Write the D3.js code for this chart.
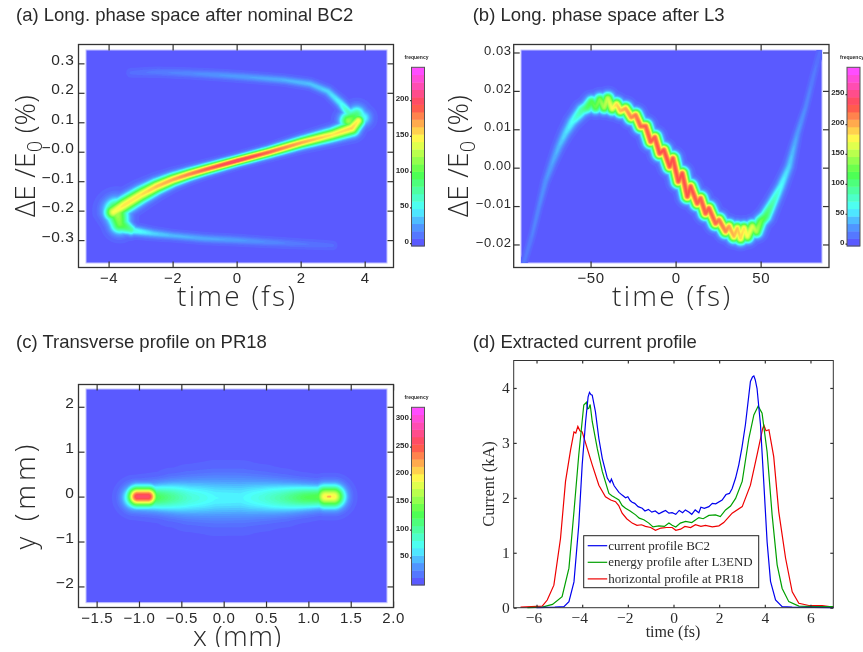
<!DOCTYPE html>
<html>
<head>
<meta charset="utf-8">
<script src="https://cdn.jsdelivr.net/npm/d3@7"></script>
<style>
  html, body { margin: 0; background: #fff; }
  svg { display: block; filter: blur(0.35px); }
  text { fill: #2a2a2a; }
</style>
</head>
<body>
<svg id="chart" width="863" height="652"></svg>
<script>
"use strict";

/********/
/* data */
/********/

// ridges: [x, y, peak frequency, spread in y units]
const aMain = [[-3.85, -0.205, 145, 0.02], [-3.5, -0.18, 155, 0.019], [-3, -0.147, 155, 0.018], [-2.5, -0.118, 165, 0.016],
  [-2, -0.095, 172, 0.014], [-1.5, -0.077, 182, 0.0125], [-1, -0.061, 192, 0.0115], [0, -0.031, 206, 0.0105], [1, -0.002, 192, 0.011],
  [2, 0.03, 172, 0.0125], [3, 0.058, 155, 0.0145], [3.6, 0.08, 160, 0.017], [3.8, 0.105, 150, 0.015]];
const aLeftBlob = [[-3.75, -0.2, 125, 0.027], [-3.65, -0.245, 110, 0.022], [-3.3, -0.265, 75, 0.013]];
const aRightBlob = [[3.5, 0.105, 120, 0.02], [3.75, 0.125, 85, 0.02], [3.95, 0.115, 55, 0.018]];
const aTop = [[3.55, 0.125, 75, 0.012], [3.25, 0.165, 48, 0.011], [2.85, 0.205, 38, 0.01], [2.3, 0.23, 33, 0.0095],
  [1.5, 0.243, 29, 0.009], [0.5, 0.252, 25, 0.009], [-0.5, 0.26, 21, 0.009], [-1.5, 0.266, 16, 0.009],
  [-2.5, 0.27, 11, 0.009], [-3.3, 0.268, 6, 0.009]];
const aBottom = [[-3.55, -0.25, 85, 0.014], [-3.2, -0.268, 55, 0.011], [-2.6, -0.278, 38, 0.01], [-2, -0.285, 31, 0.009],
  [-1, -0.295, 27, 0.009], [0, -0.3, 23, 0.009], [1, -0.307, 16, 0.009], [2, -0.313, 10, 0.009], [3, -0.318, 6, 0.009]];

const bRidge = [[-89.2, -0.0248, 12, 0.0005], [-84.3, -0.0175, 16, 0.0005], [-80.5, -0.0105, 20, 0.0005], [-76.5, -0.0036, 24, 0.0006],
  [-72.5, 0.0012, 30, 0.0007], [-68.6, 0.0055, 38, 0.0008], [-64.7, 0.009, 48, 0.0009],
  [-60.8, 0.0119, 60, 0.001], [-54.9, 0.015, 90, 0.0011], [-52, 0.0157, 110, 0.0011], [-49.4, 0.0171, 120, 0.0011],
  [-47, 0.0157, 125, 0.0011], [-44.5, 0.0177, 135, 0.0011], [-42, 0.0157, 150, 0.0011], [-39.8, 0.018, 160, 0.0011],
  [-37.3, 0.0154, 175, 0.0011], [-34.7, 0.0165, 190, 0.0011], [-32.4, 0.0148, 200, 0.0011], [-29.4, 0.0154, 208, 0.0011],
  [-26.1, 0.0131, 216, 0.0011], [-23.5, 0.0137, 222, 0.0011], [-20.6, 0.0108, 228, 0.0011], [-17.6, 0.0108, 230, 0.0011],
  [-14.7, 0.0068, 232, 0.0011], [-12.2, 0.0079, 232, 0.0011], [-9.4, 0.0037, 235, 0.0011], [-6.9, 0.0046, 235, 0.0011],
  [-3.5, 0.0003, 235, 0.0011], [-1.6, 0.0024, 235, 0.0011], [1.6, -0.0036, 235, 0.0011], [3.9, -0.0015, 235, 0.0011],
  [6.9, -0.0075, 235, 0.0011], [8.8, -0.0049, 235, 0.0011], [12.7, -0.0093, 232, 0.0011], [14.7, -0.008, 232, 0.0011],
  [17.6, -0.0119, 232, 0.0011], [19.6, -0.0106, 232, 0.0011], [23.5, -0.0145, 228, 0.0011], [25.5, -0.0136, 222, 0.0011],
  [29.4, -0.0166, 218, 0.0011], [31.4, -0.0153, 208, 0.0011], [34.3, -0.0179, 200, 0.0011], [36.3, -0.0158, 196, 0.0011],
  [38.2, -0.0184, 190, 0.0011], [40.2, -0.0158, 185, 0.0011], [42.2, -0.0179, 175, 0.0011], [45.1, -0.0153, 165, 0.0011],
  [47.5, -0.0166, 150, 0.0011], [50, -0.014, 130, 0.0011], [52.9, -0.0127, 112, 0.0011], [56.9, -0.0093, 85, 0.001],
  [61.8, -0.0049, 60, 0.0009], [66.7, 0.0003, 45, 0.0008], [71.6, 0.0089, 28, 0.0006], [76.5, 0.0158, 20, 0.0005],
  [81.4, 0.0245, 13, 0.0005], [84.7, 0.0301, 8, 0.0005]];

const cBar = [[-1.05, -0.02, 130, 0.17], [-0.8, -0.02, 125, 0.19], [-0.6, -0.02, 100, 0.23], [-0.4, -0.03, 78, 0.27], [-0.1, -0.03, 62, 0.31],
  [0.2, -0.03, 60, 0.31], [0.45, -0.03, 74, 0.27], [0.7, -0.03, 95, 0.23], [0.95, -0.02, 122, 0.19], [1.15, -0.01, 130, 0.17], [1.32, -0.01, 125, 0.16]];
const cLeftCore = [[-1.02, 0, 268, 0.15], [-0.89, 0, 268, 0.15]];
const cRightCore = [[1.2, 0, 195, 0.17], [1.3, 0, 195, 0.17]];
const cRightSpot = [[1.23, 0, 225, 0.05], [1.26, 0, 225, 0.05]];

const frequencyStops = [0, 0.1, 0.2, 0.4, 0.6, 0.8, 0.9, 1];
const frequencyColours = ["#5a5aff", "#4f9eff", "#4dffff", "#4dff4d", "#ffff4d", "#ff4d4d", "#ff4da6", "#ff4dff"];

const blueTime = [-6, -5.2, -4.8, -4.58, -4.36, -4.15, -4, -3.85, -3.74, -3.68, -3.62, -3.56, -3.42, -3.27, -3.12, -2.9, -2.78, -2.72, -2.6,
  -2.39, -2.25, -2.1, -2, -1.9, -1.81, -1.7, -1.55, -1.37, -1.25, -1.1, -0.95, -0.8, -0.64, -0.5, -0.35, -0.2, -0.06, 0.1, 0.25, 0.4, 0.52, 0.67,
  0.8, 0.95, 1.11, 1.2, 1.35, 1.55, 1.7, 1.85, 2.13, 2.3, 2.45, 2.57, 2.72, 2.86, 3, 3.15, 3.37, 3.46, 3.52, 3.58, 3.66, 3.81, 3.96, 4.1, 4.25,
  4.47, 4.76, 5.2, 7];
const blueCurrent = [0, 0.01, 0.02, 0.11, 0.47, 1.5, 2.6, 3.39, 3.84, 3.92, 3.88, 3.87, 3.57, 3.08, 2.72, 2.36, 2.28, 2.34, 2.22,
  2.1, 2.05, 2, 2.02, 1.95, 1.92, 1.9, 1.84, 1.81, 1.76, 1.79, 1.74, 1.76, 1.71, 1.74, 1.77, 1.72, 1.73, 1.7, 1.77, 1.73, 1.78, 1.74,
  1.7, 1.78, 1.73, 1.83, 1.81, 1.84, 1.9, 1.89, 1.96, 2.06, 2.08, 2.17, 2.36, 2.6, 2.92, 3.33, 4.12, 4.2, 4.22, 4.15, 3.99, 3.33, 2.24, 1.2, 0.48,
  0.14, 0.02, 0.01, 0];

const greenTime = [-6.4, -5.75, -5.3, -4.88, -4.58, -4.36, -4.15, -3.93, -3.81, -3.76, -3.71, -3.65, -3.56, -3.34, -3.12, -2.83, -2.7, -2.55, -2.39, -2.25, -2.1,
  -1.9, -1.66, -1.5, -1.3, -1.08, -0.9, -0.64, -0.4, -0.2, -0.06, 0.1, 0.3, 0.53, 0.8, 1.11, 1.3, 1.55, 1.84, 2.05, 2.28, 2.5, 2.72, 3.01, 3.3, 3.52, 3.71, 3.88,
  4.1, 4.32, 4.54, 4.76, 5.05, 5.49, 6.2, 7];
const greenCurrent = [0, 0.01, 0.06, 0.2, 0.72, 1.75, 2.78, 3.69, 3.74, 3.62, 3.63, 3.7, 3.39, 2.9, 2.48, 2.08, 2.04, 2, 1.96, 1.86, 1.81,
  1.76, 1.69, 1.63, 1.6, 1.54, 1.47, 1.49, 1.48, 1.54, 1.5, 1.47, 1.54, 1.57, 1.55, 1.64, 1.62, 1.68, 1.69, 1.66, 1.78, 1.85, 1.99, 2.3, 3.08, 3.51, 3.67, 3.54,
  2.84, 1.69, 0.78, 0.35, 0.11, 0.03, 0.02, 0.02];

const redTime = [-6.7, -5.75, -5.53, -5.24, -4.95, -4.73, -4.51, -4.36, -4.28, -4.19, -4.1, -4, -3.78, -3.56, -3.27, -2.98, -2.75, -2.54, -2.4, -2.25, -2.05,
  -1.81, -1.6, -1.4, -1.23, -1, -0.79, -0.55, -0.3, -0.06, 0.1, 0.31, 0.5, 0.75, 0.96, 1.2, 1.4, 1.7, 1.99, 2.2, 2.57, 3.01, 3.37, 3.66, 3.9, 3.96, 4.05, 4.18,
  4.39, 4.61, 4.91, 5.2, 5.49, 5.93, 6.51, 7];
const redCurrent = [0.01, 0.03, 0.14, 0.41, 1.26, 2.3, 2.87, 3.2, 3.18, 3.3, 3.22, 3.2, 2.9, 2.6, 2.23, 2.02, 1.96, 1.93, 1.86, 1.72, 1.62,
  1.54, 1.5, 1.51, 1.48, 1.46, 1.41, 1.45, 1.46, 1.46, 1.41, 1.43, 1.48, 1.46, 1.51, 1.48, 1.5, 1.47, 1.49, 1.55, 1.72, 1.84, 2.23, 2.78, 3.25, 3.32, 3.22, 3.24,
  2.75, 1.75, 0.9, 0.29, 0.08, 0.04, 0.04, 0.01];

const curveColours = ["#0000ee", "#00a000", "#ee0000"];
const curveNames = ["current profile BC2", "energy profile after L3END", "horizontal profile at PR18"];

const titles = ["(a) Long. phase space after nominal BC2", "(b) Long. phase space after L3",
  "(c) Transverse profile on PR18", "(d) Extracted current profile"];

/**********/
/* layout */
/**********/

const svg = d3.select("#chart");

svg.append("defs")
  .append("filter")
  .attr("id", "soften")
  .attr("x", "0").attr("y", "0").attr("width", "1").attr("height", "1")
  .append("feGaussianBlur")
  .attr("stdDeviation", 0.6);

const panelA = {
  frame: [78.5, 393.5, 44.5, 267.5], image: [86, 387, 50, 263],
  xDomain: [-4.94, 4.9], yDomain: [0.364, -0.393],
  xTicks: [-4, -2, 0, 2, 4], xLabels: ["−4", "−2", "0", "2", "4"],
  yTicks: [0.3, 0.2, 0.1, 0, -0.1, -0.2, -0.3], yLabels: ["0.3", "0.2", "0.1", "−0.0", "−0.1", "−0.2", "−0.3"],
  yFont: 15.5, ridges: [aBottom, aTop, aLeftBlob, aRightBlob, aMain],
  bar: { x: 411.5, width: 13, top: 67.3, bottom: 246, domain: [-4, 246], ticks: [0, 50, 100, 150, 200] },
};

const panelB = {
  frame: [513.7, 829, 44.5, 267.5], image: [521, 822, 50, 263],
  xDomain: [-95.2, 90.2], yDomain: [0.03208, -0.026],
  xTicks: [-50, 0, 50], xLabels: ["−50", "0", "50"],
  yTicks: [0.03, 0.02, 0.01, 0, -0.01, -0.02], yLabels: ["0.03", "0.02", "0.01", "0.00", "−0.01", "−0.02"],
  yFont: 13, ridges: [bRidge],
  bar: { x: 847, width: 13, top: 67.3, bottom: 246, domain: [-4, 295], ticks: [0, 50, 100, 150, 200, 250] },
};

const panelC = {
  frame: [78.5, 393.5, 384.5, 607.5], image: [86, 387, 389, 602.7],
  xDomain: [-1.714, 2.005], yDomain: [2.496, -2.469],
  xTicks: [-1.5, -1, -0.5, 0, 0.5, 1, 1.5, 2], xLabels: ["−1.5", "−1.0", "−0.5", "0.0", "0.5", "1.0", "1.5", "2.0"],
  yTicks: [2, 1, 0, -1, -2], yLabels: ["2", "1", "0", "−1", "−2"],
  yFont: 15.5, ridges: [cBar, cLeftCore, cRightCore, cRightSpot],
  bar: { x: 411.5, width: 13, top: 407.3, bottom: 585, domain: [0, 321], ticks: [50, 100, 150, 200, 250, 300] },
};

const panelD = { frame: [513.7, 833.3, 360.5, 607.7] };

/********/
/* view */
/********/

function frequencyColour(share) {
  return d3.scaleLinear().domain(frequencyStops).range(frequencyColours)(share);
}

// value of the ridges at one pixel, each ridge vertex spreading as a gaussian
function ridgeField(panel, x, y) {
  const [left, right, top, bottom] = panel.image;
  const width = Math.round(right - left);
  const height = Math.round(bottom - top);
  const values = new Float64Array(width * height);
  const yPerUnit = Math.abs(y(0) - y(1));
  const segments = [];
  panel.ridges.forEach(ridge => {
    d3.pairs(ridge).forEach(([a, b]) => segments.push({
      x0: x(a[0]), y0: y(a[1]), x1: x(b[0]), y1: y(b[1]),
      p0: a[2], p1: b[2], w0: a[3] * yPerUnit, w1: b[3] * yPerUnit,
    }));
  });
  for (let j = 0; j < height; j++) {
    for (let i = 0; i < width; i++) {
      const px = left + i + 0.5;
      const py = top + j + 0.5;
      let best = 0;
      segments.forEach(s => {
        const dx = s.x1 - s.x0;
        const dy = s.y1 - s.y0;
        const u = Math.max(0, Math.min(1, ((px - s.x0) * dx + (py - s.y0) * dy) / (dx * dx + dy * dy)));
        const ex = px - s.x0 - u * dx;
        const ey = py - s.y0 - u * dy;
        const w = s.w0 + u * (s.w1 - s.w0);
        const v = (s.p0 + u * (s.p1 - s.p0)) * Math.exp(-(ex * ex + ey * ey) / (2 * w * w));
        if (v > best) best = v;
      });
      values[i + j * width] = best;
    }
  }
  return { values, width, height };
}

function heatView(panel, x, y) {
  const [left, right, top, bottom] = panel.image;
  const max = panel.bar.domain[1];
  const bands = 64;
  const step = max / bands;
  const field = ridgeField(panel, x, y);
  const thresholds = d3.range(1, bands).map(k => k * step - step * 0.7);

  svg.append("rect")
    .attr("x", left).attr("y", top)
    .attr("width", right - left).attr("height", bottom - top)
    .attr("fill", frequencyColour(0))
    .attr("stroke", "#c4c4ff").attr("stroke-width", 1);

  const contours = d3.contours()
    .size([field.width, field.height])
    .thresholds(thresholds)(field.values);

  svg.append("g")
    .attr("transform", "translate(" + left + "," + top + ")")
    .attr("filter", "url(#soften)")
    .selectAll("path")
    .data(contours)
    .join("path")
    .attr("d", d3.geoPath())
    .attr("fill", d => frequencyColour((d.value + step * 0.7) / max));
}

function axisStyle(g, colour) {
  g.select(".domain").remove();
  g.selectAll("line").attr("stroke", colour).attr("stroke-width", 1.2);
  return g;
}

function frameView(panel, x, y) {
  const [left, right, top, bottom] = panel.frame;
  const colour = "#333";

  svg.append("rect")
    .attr("x", left).attr("y", top)
    .attr("width", right - left).attr("height", bottom - top)
    .attr("fill", "none").attr("stroke", colour).attr("stroke-width", 1.3);

  const bottomAxis = svg.append("g")
    .attr("transform", "translate(0," + bottom + ")")
    .call(d3.axisBottom(x).tickValues(panel.xTicks).tickSizeInner(-6).tickSizeOuter(0).tickPadding(5)
      .tickFormat((d, i) => panel.xLabels[i]))
    .call(axisStyle, colour);
  bottomAxis.selectAll("text")
    .attr("font-family", "Liberation Sans").attr("font-size", 15).attr("letter-spacing", 0.6);

  svg.append("g")
    .attr("transform", "translate(0," + top + ")")
    .call(d3.axisTop(x).tickValues(panel.xTicks).tickSizeInner(-6).tickSizeOuter(0).tickFormat(""))
    .call(axisStyle, colour);

  const leftAxis = svg.append("g")
    .attr("transform", "translate(" + left + ",0)")
    .call(d3.axisLeft(y).tickValues(panel.yTicks).tickSizeInner(-6).tickSizeOuter(0).tickPadding(panel.yFont > 14 ? 4 : 2)
      .tickFormat((d, i) => panel.yLabels[i]))
    .call(axisStyle, colour);
  leftAxis.selectAll("text")
    .attr("font-family", "Liberation Sans").attr("font-size", panel.yFont).attr("letter-spacing", 0.6)
    .attr("dy", panel.yFont > 14 ? "0.07em" : "0.12em");

  svg.append("g")
    .attr("transform", "translate(" + right + ",0)")
    .call(d3.axisRight(y).tickValues(panel.yTicks).tickSizeInner(-6).tickSizeOuter(0).tickFormat(""))
    .call(axisStyle, colour);
}

function colourBarView(bar) {
  const scale = d3.scaleLinear().domain(bar.domain).range([bar.bottom, bar.top]);
  const steps = 24;
  const bandHeight = (bar.bottom - bar.top) / steps;

  svg.append("g")
    .selectAll("rect")
    .data(d3.range(steps))
    .join("rect")
    .attr("x", bar.x)
    .attr("y", d => bar.bottom - (d + 1) * bandHeight)
    .attr("width", bar.width)
    .attr("height", bandHeight + 0.4)
    .attr("fill", d => frequencyColour(d / (steps - 1)));

  svg.append("rect")
    .attr("x", bar.x).attr("y", bar.top)
    .attr("width", bar.width).attr("height", bar.bottom - bar.top)
    .attr("fill", "none").attr("stroke", "#555").attr("stroke-width", 1);

  const axis = svg.append("g")
    .attr("transform", "translate(" + bar.x + ",0)")
    .call(d3.axisLeft(scale).tickValues(bar.ticks).tickSizeInner(1.5).tickSizeOuter(0).tickPadding(1))
    .call(axisStyle, "#333");
  axis.selectAll("text")
    .attr("font-family", "Liberation Sans").attr("font-size", 8).attr("font-weight", "bold")
    .attr("dy", "0.05em");

  svg.append("text")
    .attr("x", bar.x + bar.width / 2 - 1.5).attr("y", bar.top - 8)
    .attr("text-anchor", "middle")
    .attr("font-family", "Liberation Sans").attr("font-size", 5).attr("font-weight", "bold")
    .text("frequency");
}

function bigLabel(x, y, parts, width, rotate) {
  const label = svg.append("text")
    .attr("transform", "translate(" + x + "," + y + ")" + (rotate ? " rotate(-90)" : ""))
    .attr("text-anchor", "middle")
    .attr("font-family", "Open Sans")
    .attr("font-weight", 300)
    .attr("font-size", 28)
    .attr("textLength", width)
    .attr("lengthAdjust", "spacing");
  parts.forEach(part => {
    label.append("tspan")
      .attr("dy", part.sub ? 7 : (part.after ? -7 : 0))
      .attr("font-size", part.sub ? 20 : 28)
      .text(part.text);
  });
}

function scatterPanel(panel) {
  const x = d3.scaleLinear().domain(panel.xDomain).range(panel.frame.slice(0, 2));
  const y = d3.scaleLinear().domain(panel.yDomain).range(panel.frame.slice(2, 4));
  heatView(panel, x, y);
  frameView(panel, x, y);
  colourBarView(panel.bar);
}

function currentPanel() {
  const [left, right, top, bottom] = panelD.frame;
  const x = d3.scaleLinear().domain([-7, 7]).range([left, right]);
  const y = d3.scaleLinear().domain([0, 4.5]).range([bottom, top]);
  const colour = "#333";
  const font = "Liberation Serif";

  const series = [[blueTime, blueCurrent], [greenTime, greenCurrent], [redTime, redCurrent]];
  const line = d3.line().x(d => x(d[0])).y(d => y(d[1]));

  svg.append("g")
    .selectAll("path")
    .data(series.slice().reverse())
    .join("path")
    .attr("d", d => line(d3.zip(d[0], d[1])))
    .attr("fill", "none")
    .attr("stroke", (d, i) => curveColours[2 - i])
    .attr("stroke-width", 1.2);

  const xTicks = [-6, -4, -2, 0, 2, 4, 6];
  const yTicks = [0, 1, 2, 3, 4];

  svg.append("rect")
    .attr("x", left).attr("y", top)
    .attr("width", right - left).attr("height", bottom - top)
    .attr("fill", "none").attr("stroke", colour).attr("stroke-width", 1);

  const bottomAxis = svg.append("g")
    .attr("transform", "translate(0," + bottom + ")")
    .call(d3.axisBottom(x).tickValues(xTicks).tickSizeInner(-3).tickSizeOuter(0).tickPadding(4)
      .tickFormat(d => (d < 0 ? "−" : "") + Math.abs(d)))
    .call(axisStyle, colour);
  svg.append("g")
    .attr("transform", "translate(0," + top + ")")
    .call(d3.axisTop(x).tickValues(xTicks).tickSizeInner(-3).tickSizeOuter(0).tickFormat(""))
    .call(axisStyle, colour);
  const leftAxis = svg.append("g")
    .attr("transform", "translate(" + left + ",0)")
    .call(d3.axisLeft(y).tickValues(yTicks).tickSizeInner(-3).tickSizeOuter(0).tickPadding(4)
      .tickFormat(d3.format("d")))
    .call(axisStyle, colour);
  svg.append("g")
    .attr("transform", "translate(" + right + ",0)")
    .call(d3.axisRight(y).tickValues(yTicks).tickSizeInner(-3).tickSizeOuter(0).tickFormat(""))
    .call(axisStyle, colour);
  bottomAxis.selectAll("text")
    .attr("font-family", font).attr("font-size", 15.5)
    .attr("dx", d => (d < 0 ? -3 : 0));
  leftAxis.selectAll("text").attr("font-family", font).attr("font-size", 15.5);

  svg.append("text")
    .attr("x", 673).attr("y", 637)
    .attr("text-anchor", "middle")
    .attr("font-family", font).attr("font-size", 16)
    .text("time (fs)");

  svg.append("text")
    .attr("transform", "translate(494,484) rotate(-90)")
    .attr("text-anchor", "middle")
    .attr("font-family", font).attr("font-size", 16.5)
    .text("Current (kA)");

  // legend
  const legend = svg.append("g").attr("transform", "translate(583.7,535.7)");
  legend.append("rect")
    .attr("width", 175).attr("height", 52)
    .attr("fill", "#fff").attr("stroke", "#222").attr("stroke-width", 1);
  const rows = legend.selectAll("g")
    .data(curveNames)
    .join("g")
    .attr("transform", (d, i) => "translate(0," + (10 + i * 16.6) + ")");
  rows.append("line")
    .attr("x1", 4).attr("x2", 23.5)
    .attr("stroke", (d, i) => curveColours[i]).attr("stroke-width", 1.2);
  rows.append("text")
    .attr("x", 24.5).attr("y", 4)
    .attr("font-family", font).attr("font-size", 13)
    .text(d => d);
}

function titlesView() {
  const anchors = [[16, 21], [472.7, 21], [16, 348], [472.7, 348]];
  svg.append("g")
    .selectAll("text")
    .data(titles)
    .join("text")
    .attr("x", (d, i) => anchors[i][0])
    .attr("y", (d, i) => anchors[i][1])
    .attr("font-family", "Liberation Sans")
    .attr("font-size", 18.5)
    .text(d => d);
}

function axisLabelsView() {
  bigLabel(236, 306, [{ text: "time  (fs)" }], 118, false);
  bigLabel(671, 306, [{ text: "time  (fs)" }], 118, false);
  bigLabel(237, 645.5, [{ text: "x  (mm)" }], 88, false);
  bigLabel(35, 156, [{ text: "ΔE /E" }, { text: "0", sub: true }, { text: "  (%)", after: true }], 122, true);
  bigLabel(468, 156, [{ text: "ΔE /E" }, { text: "0", sub: true }, { text: "  (%)", after: true }], 122, true);
  bigLabel(35, 497, [{ text: "y  (mm)" }], 105, true);
}

scatterPanel(panelA);
scatterPanel(panelB);
scatterPanel(panelC);
currentPanel();
titlesView();
axisLabelsView();
// the reference cuts its last axis label off just under the baseline
svg.append("rect")
  .attr("x", 0).attr("y", 647)
  .attr("width", 863).attr("height", 5)
  .attr("fill", "#fff");
</script>
</body>
</html>
